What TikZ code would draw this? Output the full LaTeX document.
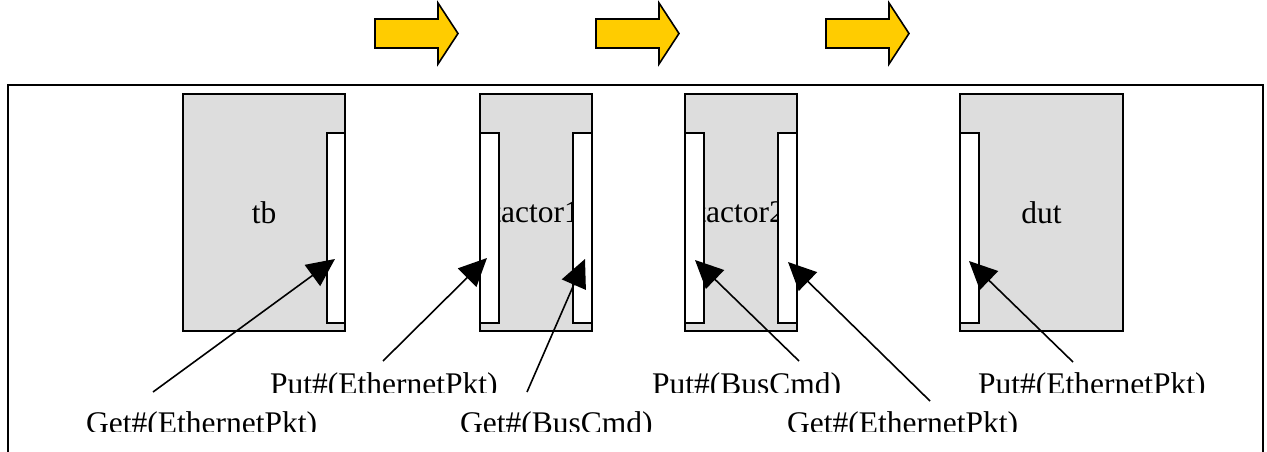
\documentclass[tikz,border=0pt]{standalone}
\usepackage{fontspec}
\setmainfont{Liberation Serif}
\usetikzlibrary{arrows.meta}
\definecolor{boxgray}{HTML}{DDDDDD}
\definecolor{flowyellow}{HTML}{FFCC00}
\begin{document}
\begin{tikzpicture}[x=1pt,y=-1pt,
  block/.style={draw=black,line width=2pt,fill=boxgray,rectangle,inner sep=0pt,anchor=north west,font=\fontsize{31.5}{36}\selectfont},
  port/.style={draw=black,line width=2pt,fill=white,rectangle,inner sep=0pt,anchor=north west,minimum width=18pt,minimum height=190pt},
  lbl/.style={inner sep=0pt,anchor=base west,font=\fontsize{31.5}{36}\selectfont},
  ptr/.style={line width=1.6pt,-{Triangle[length=28pt,width=26pt]}},
  flow/.style={draw=black,line width=1.6pt,fill=flowyellow,line join=miter}]
\useasboundingbox (0,0) rectangle (1267,452);
\clip (0,0) rectangle (1267,452);
% top flow arrows
\foreach \dx in {0,221,451}{
  \draw[flow] (375+\dx,19) -- (438+\dx,19) -- (438+\dx,3) -- (458+\dx,33.5) -- (438+\dx,64) -- (438+\dx,48) -- (375+\dx,48) -- cycle;
}
% frame
\draw[line width=2pt] (8,470) -- (8,85) -- (1263,85) -- (1263,470);
% blocks
\node[block,minimum width=162pt,minimum height=237pt] (tb) at (182,93) {tb};
\node[block,minimum width=112pt,minimum height=237pt] (actor1) at (479,93) {tactor1};
\node[block,minimum width=112pt,minimum height=237pt] (actor2) at (684,93) {tactor2};
\node[block,minimum width=163pt,minimum height=237pt] (dut) at (959,93) {dut};
% ports
\node[port] (tbP) at (326,132) {};
\node[port,minimum width=19pt] (a1L) at (479,132) {};
\node[port,minimum width=19pt] (a1R) at (572,132) {};
\node[port,minimum width=19pt] (a2L) at (684,132) {};
\node[port,minimum width=19pt] (a2R) at (777,132) {};
\node[port,minimum width=19pt] (dutP) at (959,132) {};
% labels (clipped at the bottom like the original)
\begin{scope}
  \clip (0,340) rectangle (1267,392);
  \node[lbl] (put1) at (270,394) {Put\#(EthernetPkt)};
  \node[lbl] (put2) at (652,394) {Put\#(BusCmd)};
  \node[lbl] (put3) at (978,394) {Put\#(EthernetPkt)};
\end{scope}
\begin{scope}
  \clip (0,402) rectangle (1267,431);
  \node[lbl] (get1) at (86,433) {Get\#(EthernetPkt)};
  \node[lbl] (get2) at (460,433) {Get\#(BusCmd)};
  \node[lbl] (get3) at (787,433) {Get\#(EthernetPkt)};
\end{scope}
% pointer ends
\coordinate (s1) at (153,392);
\coordinate (s2) at (383,361);
\coordinate (s3) at (527,392);
\coordinate (s4) at (799,361);
\coordinate (s5) at (930,401);
\coordinate (s6) at (1073,362);
\coordinate (t1) at (335,259);
\coordinate (t2) at (487,258);
\coordinate (t3) at (585,259);
\coordinate (t4) at (695,260);
\coordinate (t5) at (788,262);
\coordinate (t6) at (969,261);
\foreach \i in {1,...,6}{\draw[ptr] (s\i) -- (t\i);}
\end{tikzpicture}
\end{document}
